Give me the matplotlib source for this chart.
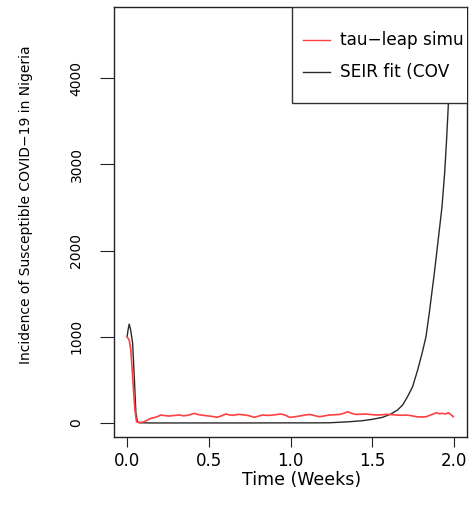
import matplotlib
matplotlib.use("Agg")
import matplotlib.pyplot as plt
from matplotlib.patches import Rectangle
from matplotlib.lines import Line2D

plt.rcParams['font.family'] = ['DejaVu Sans']

# SEIR fit (black curve)
seir_t = [0.0, 0.006, 0.013, 0.022, 0.034, 0.044, 0.054, 0.064, 0.08, 0.15, 0.4,
          0.7, 1.0, 1.15, 1.237, 1.36, 1.44, 1.50, 1.563, 1.614, 1.655, 1.686,
          1.716, 1.747, 1.778, 1.805, 1.829, 1.849, 1.88, 1.906, 1.927, 1.943,
          1.955, 1.966, 1.98, 2.0]
seir_v = [1000, 1080, 1148, 1080, 925, 537, 113, 15, 3, 1, 1,
          1, 2, 2, 3, 15, 27, 43, 66, 104, 151, 209,
          305, 421, 615, 808, 1001, 1273, 1737, 2161, 2509, 2896,
          3283, 3701, 4300, 5300]

# tau-leap simulation (red curve)
tau_t = [0.0, 0.013, 0.023, 0.034, 0.048, 0.058, 0.074, 0.104, 0.145, 0.18,
         0.207, 0.235, 0.258, 0.29, 0.319, 0.345, 0.37, 0.39, 0.411, 0.432,
         0.452, 0.48, 0.503, 0.53, 0.552, 0.58, 0.605, 0.625, 0.644, 0.665,
         0.687, 0.71, 0.728, 0.755, 0.779, 0.80, 0.828, 0.86, 0.89, 0.915,
         0.943, 0.97, 0.994, 1.025, 1.055, 1.085, 1.117, 1.15, 1.178, 1.21,
         1.24, 1.27, 1.30, 1.325, 1.35, 1.375, 1.40, 1.43, 1.46, 1.495,
         1.53, 1.56, 1.587, 1.62, 1.65, 1.68, 1.71, 1.74, 1.77, 1.80,
         1.83, 1.86, 1.894, 1.91, 1.93, 1.95, 1.965, 1.98, 1.996]
tau_v = [1000, 963, 847, 537, 151, 15, 3, 15, 54, 70,
         93, 85, 81, 88, 93, 84, 89, 100, 112, 100,
         93, 86, 81, 74, 66, 85, 105, 95, 89, 96,
         100, 95, 93, 80, 66, 78, 93, 88, 93, 98,
         105, 90, 66, 72, 81, 92, 100, 85, 73, 84,
         93, 96, 100, 112, 131, 112, 100, 102, 105, 98,
         93, 96, 100, 97, 93, 90, 93, 85, 73, 70,
         73, 95, 120, 108, 112, 105, 120, 100, 73]

x_ticks = [0.0, 0.5, 1.0, 1.5, 2.0]
x_ticklabels = ["0.0", "0.5", "1.0", "1.5", "2.0"]
y_ticks = [0, 1000, 2000, 3000, 4000]
y_ticklabels = ["0", "1000", "2000", "3000", "4000"]
# legend texts as visible in the (cropped) reference
legend_labels = ["tau\u2212leap simu", "SEIR fit (COV"]

W, H = 473, 522
fig = plt.figure(figsize=(W / 100, H / 100), dpi=100)
ax = fig.add_axes([114 / W, 1 - 437 / H, (467 - 114) / W, (437 - 7) / H])

ax.plot(seir_t, seir_v, color='#2a2a2a', lw=1.0, zorder=2)
ax.plot(tau_t, tau_v, color='#ff4040', lw=1.2, zorder=3)

ax.set_xlim(-0.08, 2.08)
ax.set_ylim(-162, 4826)

ax.set_xticks(x_ticks)
ax.set_xticklabels(x_ticklabels)
ax.set_yticks(y_ticks)
ax.set_yticklabels(y_ticklabels, rotation=90, va='center')
ax.tick_params(axis='x', length=7, width=0.8, labelsize=12, pad=3.5, color='#222222')
ax.tick_params(axis='y', length=10, width=0.8, labelsize=10, pad=12, color='#222222')
for s in ax.spines.values():
    s.set_linewidth(1.0)
    s.set_color('#222222')

ax.set_xlabel("Time (Weeks)", fontsize=12.5)
ax.xaxis.label.set_verticalalignment('center')
ax.xaxis.set_label_coords((302 - 114) / 353, -(480 - 437) / 430)
ax.set_ylabel("Incidence of Susceptible COVID\u221219 in Nigeria", fontsize=10)
ax.yaxis.label.set_verticalalignment('center')
ax.yaxis.set_label_coords((26 - 114) / 353, 1 - (205 - 7) / 430)

# legend box (its right side is cut by the plot box, as in the reference)
leg_x0 = (292 - 114) / 353
leg_y0 = 1 - (103 - 7) / 430
rect = Rectangle((leg_x0, leg_y0), 1.2, 1.0 - leg_y0, transform=ax.transAxes,
                 facecolor='white', edgecolor='#333333', lw=1.0, zorder=5, clip_on=True)
ax.add_patch(rect)
row_y = [1 - (40 - 7) / 430, 1 - (72 - 7) / 430]
colors = ['#ff4040', '#2a2a2a']
for ry, c, lab in zip(row_y, colors, legend_labels):
    ln = Line2D([(303 - 114) / 353, (330 - 114) / 353], [ry, ry], transform=ax.transAxes,
                color=c, lw=1.0, zorder=6, clip_on=True)
    ax.add_line(ln)
    ax.text((340 - 114) / 353, ry, lab, transform=ax.transAxes, fontsize=12.2,
            va='center', ha='left', zorder=6)

fig.savefig("out.png", dpi=100, facecolor='white')
